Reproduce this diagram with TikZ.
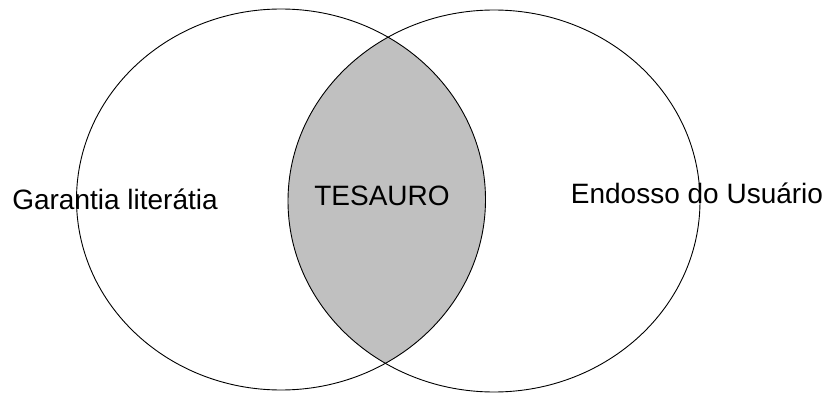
\documentclass[tikz,border=0pt]{standalone}
\usepackage{fontspec}
\setmainfont{Liberation Sans}
\begin{document}
\begin{tikzpicture}[x=1pt,y=-1pt,
  lbl/.style={font=\fontsize{28}{32}\selectfont, inner sep=0pt, text=black},
  ring/.style={draw=black, line width=0.9pt}]
\useasboundingbox (0,0) rectangle (836,396);
\fill[white] (0,0) rectangle (836,396);
\begin{scope}
  \clip (281,199.5) ellipse [x radius=204.5, y radius=190.5];
  \fill[fill={rgb,255:red,192;green,192;blue,192}] (494,201) ellipse [x radius=206, y radius=191];
\end{scope}
\draw[ring] (281,199.5) ellipse [x radius=204.5, y radius=190.5];
\draw[ring] (494,201) ellipse [x radius=206, y radius=191];
\node[lbl] (garantia) at (115,199) {Garantia literátia};
\node[lbl] (tesauro) at (382,196) {TESAURO};
\node[lbl] (endosso) at (697,193) {Endosso do Usuário};
\end{tikzpicture}
\end{document}
